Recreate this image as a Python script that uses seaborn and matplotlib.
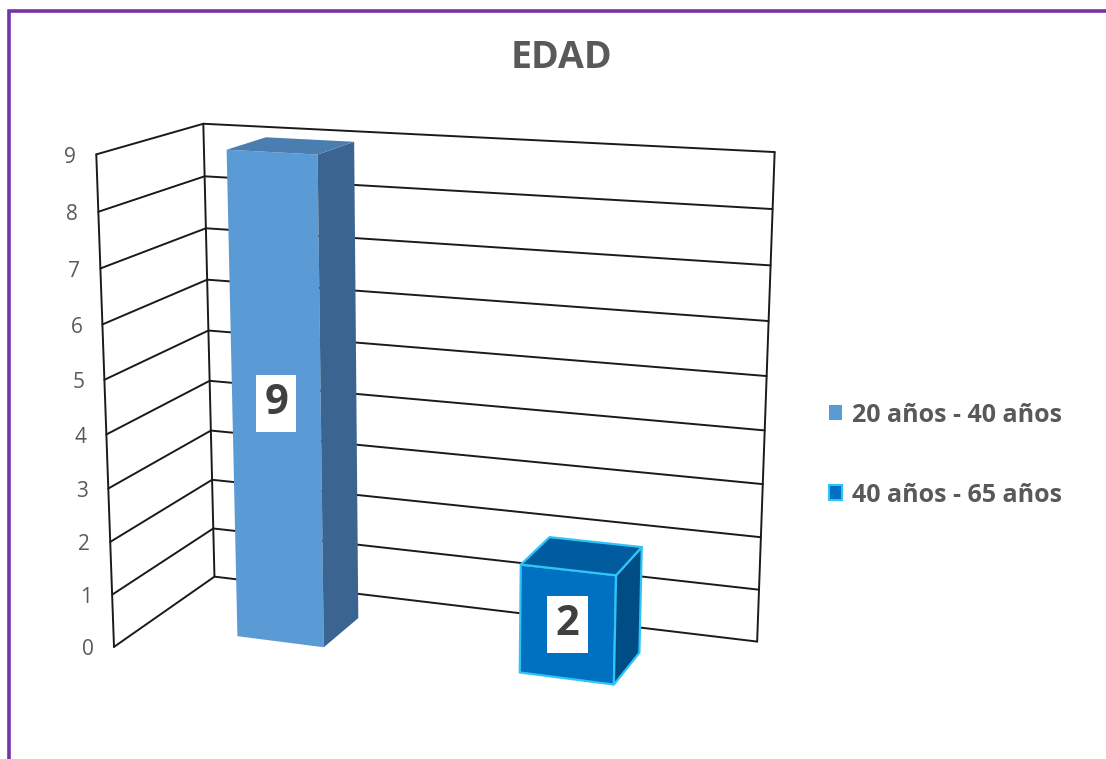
import numpy as np
import matplotlib
matplotlib.use("Agg")
import matplotlib.pyplot as plt
from matplotlib.patches import Polygon, Patch
import seaborn as sns

# ---------------- data ----------------
categories = ["20 años - 40 años", "40 años - 65 años"]
values = [9, 2]
y_ticks = [0, 1, 2, 3, 4, 5, 6, 7, 8, 9]
title = "EDAD"

sns.set_theme(style="white")
plt.rcParams['font.family'] = ['Open Sans', 'DejaVu Sans']

# ---------------- 3-D view (layout) ----------------
# camera: azimuth, elevation (rad), eye distance, pixel scale, screen centre
AZIM, ELEV, DIST, SCALE, CX, CY = 0.348653, 0.250133, 7.64508, 307.588, 436.595, 405.262
DEPTH = 0.781537        # depth of the floor (category units)
ZSCALE = 0.182932       # height of one value unit (category units)
BAR_W, BAR_Y0, BAR_D = 0.315095, 0.234906, 0.308413
N_CAT = len(categories)
Z_MID = (y_ticks[0] + y_ticks[-1]) / 2


def proj(X, Y, Z):
    Xc = X - N_CAT / 2
    Yc = Y - DEPTH / 2
    Zc = (Z - Z_MID) * ZSCALE
    x1 = Xc * np.cos(AZIM) + Yc * np.sin(AZIM)
    y1 = -Xc * np.sin(AZIM) + Yc * np.cos(AZIM)
    up = Zc * np.cos(ELEV) + y1 * np.sin(ELEV)
    dep = y1 * np.cos(ELEV) - Zc * np.sin(ELEV)
    k = DIST / (DIST + dep)
    return CX + SCALE * k * x1, CY - SCALE * k * up


# ---------------- drawing ----------------
W, H = 1106, 759
fig = plt.figure(figsize=(W / 100, H / 100), dpi=100)
ax = fig.add_axes([0, 0, 1, 1])
ax.set_xlim(0, W); ax.set_ylim(H, 0); ax.axis('off')

grid_kw = dict(color='#1a1a1a', lw=1.4, solid_capstyle='round', zorder=1)
top = y_ticks[-1]
for v in y_ticks:
    a, b, c = proj(0, 0, v), proj(0, DEPTH, v), proj(N_CAT, DEPTH, v)
    ax.plot([a[0], b[0], c[0]], [a[1], b[1], c[1]], **grid_kw)
    ax.text(a[0] - 20, a[1] + 3, str(v), ha='right', va='center', fontsize=15, color='#595959')
for (X, Y) in [(0, 0), (0, DEPTH), (N_CAT, DEPTH)]:
    a, b = proj(X, Y, y_ticks[0]), proj(X, Y, top)
    ax.plot([a[0], b[0]], [a[1], b[1]], **grid_kw)

front_cols = ["#5B9BD5", "#0070C0"]
top_cols = ["#4A7EB0", "#005C9E"]
side_cols = ["#3B6590", "#004C85"]
edge_cols = ["none", "#2EC4F7"]
for i, v in enumerate(values):
    xl, xr = i + 0.5 - BAR_W / 2, i + 0.5 + BAR_W / 2
    yf, yb = BAR_Y0, BAR_Y0 + BAR_D
    faces = [
        ([(xl, yf, 0), (xr, yf, 0), (xr, yf, v), (xl, yf, v)], front_cols[i]),
        ([(xr, yf, 0), (xr, yb, 0), (xr, yb, v), (xr, yf, v)], side_cols[i]),
        ([(xl, yf, v), (xr, yf, v), (xr, yb, v), (xl, yb, v)], top_cols[i]),
    ]
    for pts, col in faces:
        xy = [proj(*q) for q in pts]
        ax.add_patch(Polygon(xy, closed=True, facecolor=col, edgecolor=edge_cols[i],
                             lw=1.6, joinstyle='round', zorder=3))
    lx, ly = proj(i + 0.5, yf, v / 2)
    ax.text(lx, ly, str(v), ha='center', va='center', fontsize=30, fontweight='bold',
            color='#404040', zorder=5,
            bbox=dict(boxstyle='square,pad=0.2', fc='white', ec='none'))

ax.text(561, 58, title, ha='center', va='center', fontsize=27, fontweight='bold', color='#595959')

handles = [Patch(facecolor=front_cols[i], edgecolor=edge_cols[i], lw=1.5) for i in range(N_CAT)]
leg = ax.legend(handles, categories, loc='center left', bbox_to_anchor=(829 / W, 1 - 455 / H),
                bbox_transform=fig.transFigure, frameon=False, fontsize=18, handlelength=0.52,
                handleheight=0.52, handletextpad=0.42, labelspacing=2.2, borderpad=0, borderaxespad=0)
for t in leg.get_texts():
    t.set_color('#595959'); t.set_fontweight('bold')

ax.plot([8.5, 8.5, W], [H, 10.5, 10.5], color='#7434A6', lw=2.6, solid_joinstyle='miter', zorder=10)

fig.savefig("out.png", dpi=100)
